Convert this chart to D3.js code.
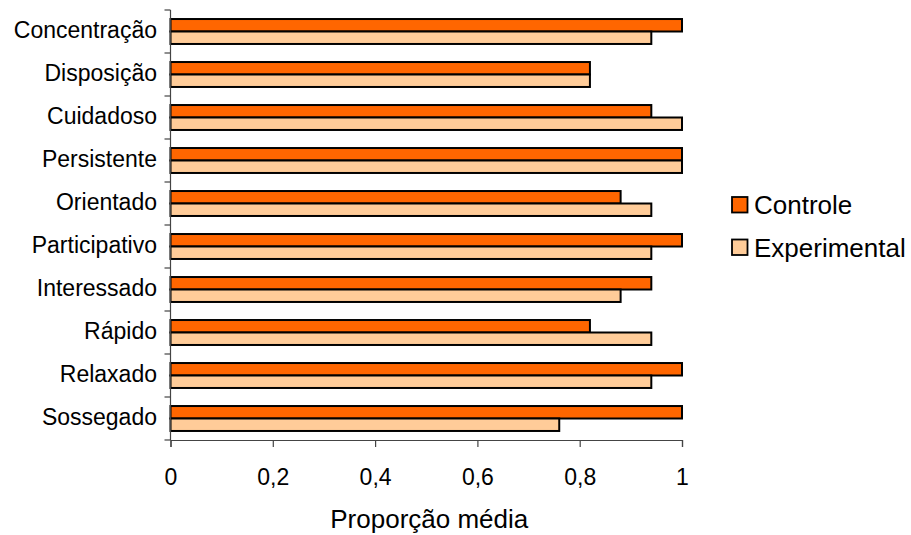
<!DOCTYPE html>
<html>
<head>
<meta charset="utf-8">
<script src="https://cdn.jsdelivr.net/npm/d3@7"></script>
<style>
  html, body { margin: 0; padding: 0; background: #fff; }
  svg { display: block; font-family: "Liberation Sans", Arial, sans-serif; }
</style>
</head>
<body>
<svg id="chart" width="911" height="535"></svg>
<script>
// Attributes rated, top to bottom
const categories = ["Concentração", "Disposição", "Cuidadoso", "Persistente", "Orientado",
  "Participativo", "Interessado", "Rápido", "Relaxado", "Sossegado"];
const seriesNames = ["Controle", "Experimental"];
const controle = [1, 0.82, 0.94, 1, 0.88, 1, 0.94, 0.82, 1, 1];
const experimental = [0.94, 0.82, 1, 1, 0.94, 0.94, 0.88, 0.94, 0.94, 0.76];
const xTicks = [0, 0.2, 0.4, 0.6, 0.8, 1];
const colors = ["#FF6600", "#FFCC99"];

const svg = d3.select("#chart");
const plotLeft = 170.5, plotRight = 682, plotTop = 10, plotBottom = 440;

const x = d3.scaleLinear().domain([0, 1]).range([plotLeft, plotRight]);
const y = d3.scaleBand().domain(categories).range([plotTop, plotBottom])
  .paddingInner(0.42).paddingOuter(0.21);
const ySub = d3.scaleBand().domain(seriesNames).range([0, y.bandwidth()]);

const rows = categories.map((c, i) => ({ cat: c, values: [controle[i], experimental[i]] }));

// Bars
const g = svg.append("g");
rows.forEach(r => {
  r.values.forEach((v, j) => {
    g.append("rect")
      .attr("x", x(0))
      .attr("y", y(r.cat) + ySub(seriesNames[j]))
      .attr("width", x(v) - x(0))
      .attr("height", ySub.bandwidth())
      .attr("fill", colors[j])
      .attr("stroke", "#000")
      .attr("stroke-width", 2);
  });
});

// Y axis: line plus ticks on band boundaries
const axisColor = "#444";
svg.append("line").attr("x1", plotLeft).attr("x2", plotLeft).attr("y1", plotTop).attr("y2", plotBottom)
  .attr("stroke", axisColor).attr("stroke-width", 1.2);
const step = y.step();
d3.range(categories.length + 1).forEach(i => {
  const yy = plotTop + i * step;
  svg.append("line").attr("x1", plotLeft - 6).attr("x2", plotLeft).attr("y1", yy).attr("y2", yy)
    .attr("stroke", axisColor).attr("stroke-width", 1.2);
});
svg.append("g").selectAll("text").data(categories).join("text")
  .attr("x", 157)
  .attr("y", d => y(d) + y.bandwidth() / 2 + 6)
  .attr("text-anchor", "end")
  .attr("font-size", 23)
  .attr("fill", "#000")
  .text(d => d);

// X axis
const xAxis = d3.axisBottom(x).tickValues(xTicks).tickSize(7).tickPadding(0)
  .tickFormat(d => d3.format("~g")(d).replace(".", ","));
const xg = svg.append("g").attr("transform", `translate(0,${plotBottom})`).call(xAxis);
xg.select(".domain").attr("stroke", axisColor).attr("stroke-width", 1.2);
xg.selectAll(".tick line").attr("stroke", axisColor).attr("stroke-width", 1.2);
xg.selectAll(".tick text").attr("font-size", 23).attr("fill", "#000")
  .attr("font-family", "Liberation Sans, Arial, sans-serif")
  .attr("y", 45).attr("dy", null);

svg.append("text")
  .attr("x", (plotLeft + plotRight) / 2 + 3)
  .attr("y", 528)
  .attr("text-anchor", "middle")
  .attr("font-size", 26)
  .attr("fill", "#000")
  .text("Proporção média");

// Legend
const legend = svg.append("g");
seriesNames.forEach((s, i) => {
  const ly = 197 + i * 42.5;
  legend.append("rect").attr("x", 732).attr("y", ly).attr("width", 15.5).attr("height", 15.5)
    .attr("fill", colors[i]).attr("stroke", "#000").attr("stroke-width", 1.8);
  legend.append("text").attr("x", 754).attr("y", ly + 17)
    .attr("font-size", 26).attr("fill", "#000").text(s);
});
</script>
</body>
</html>
